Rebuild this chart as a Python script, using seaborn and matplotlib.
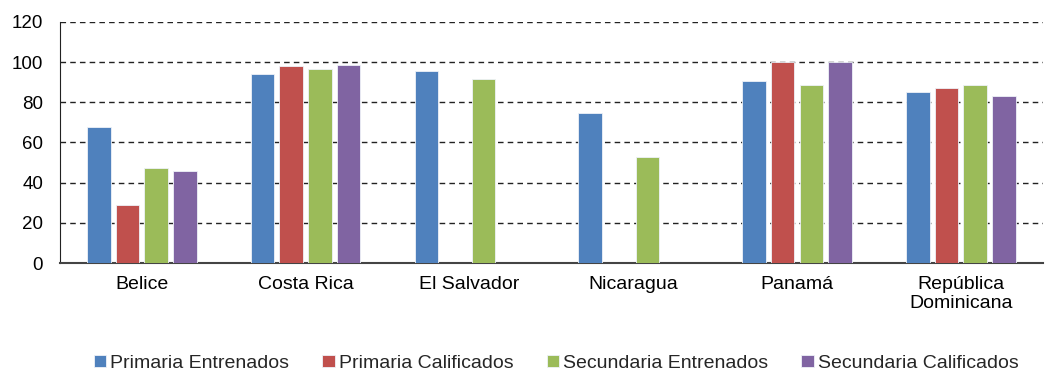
import numpy as np
import pandas as pd
import seaborn as sns
import matplotlib.pyplot as plt

# datos
paises = ['Belice', 'Costa Rica', 'El Salvador', 'Nicaragua', 'Panamá', 'República\nDominicana']
primaria_entrenados = [67.5, 93.9, 95.5, 74.8, 90.5, 85.1]
primaria_calificados = [28.7, 97.9, np.nan, np.nan, 100.0, 87.2]
secundaria_entrenados = [47.1, 96.4, 91.5, 52.6, 88.6, 88.7]
secundaria_calificados = [45.6, 98.5, np.nan, np.nan, 100.0, 82.9]

series = ['Primaria Entrenados', 'Primaria Calificados', 'Secundaria Entrenados', 'Secundaria Calificados']
colores = ['#4F81BD', '#C0504D', '#9BBB59', '#8064A2']

df = pd.DataFrame({'pais': paises,
                   series[0]: primaria_entrenados,
                   series[1]: primaria_calificados,
                   series[2]: secundaria_entrenados,
                   series[3]: secundaria_calificados})
df = df.melt(id_vars='pais', var_name='serie', value_name='valor')

sns.set_style('white')
plt.rcParams['font.family'] = ['Liberation Sans', 'DejaVu Sans']

fig = plt.figure(figsize=(10.5, 3.71), dpi=100)
ax = fig.add_axes([0.057, 0.291, 0.936, 0.65])

sns.barplot(data=df, x='pais', y='valor', hue='serie', order=paises, hue_order=series,
            palette=colores, errorbar=None, width=0.7, gap=0.18, saturation=1,
            edgecolor='#eef2f8', linewidth=0.6, ax=ax, zorder=3)

ax.set_ylim(0, 120)
ax.set_yticks(range(0, 121, 20))
ax.set_xlabel('')
ax.set_ylabel('')
ax.yaxis.grid(True, linestyle=(0, (4, 3)), color='#222222', linewidth=1.0, zorder=0)
ax.set_axisbelow(True)
for s in ['top', 'right']:
    ax.spines[s].set_visible(False)
ax.spines['left'].set_color('#222222')
ax.spines['bottom'].set_color('#444444')
ax.spines['bottom'].set_linewidth(1.5)
ax.tick_params(axis='both', length=0, colors='black')
ax.tick_params(axis='y', pad=12, labelsize=13.5)
ax.tick_params(axis='x', pad=9, labelsize=14)

ax.legend(loc='center', bbox_to_anchor=(0.505, -0.415), ncol=4, frameon=False,
          fontsize=14, handlelength=0.65, handleheight=0.6, handletextpad=0.2,
          columnspacing=1.7, borderpad=0)

fig.savefig('out.png', dpi=100)
